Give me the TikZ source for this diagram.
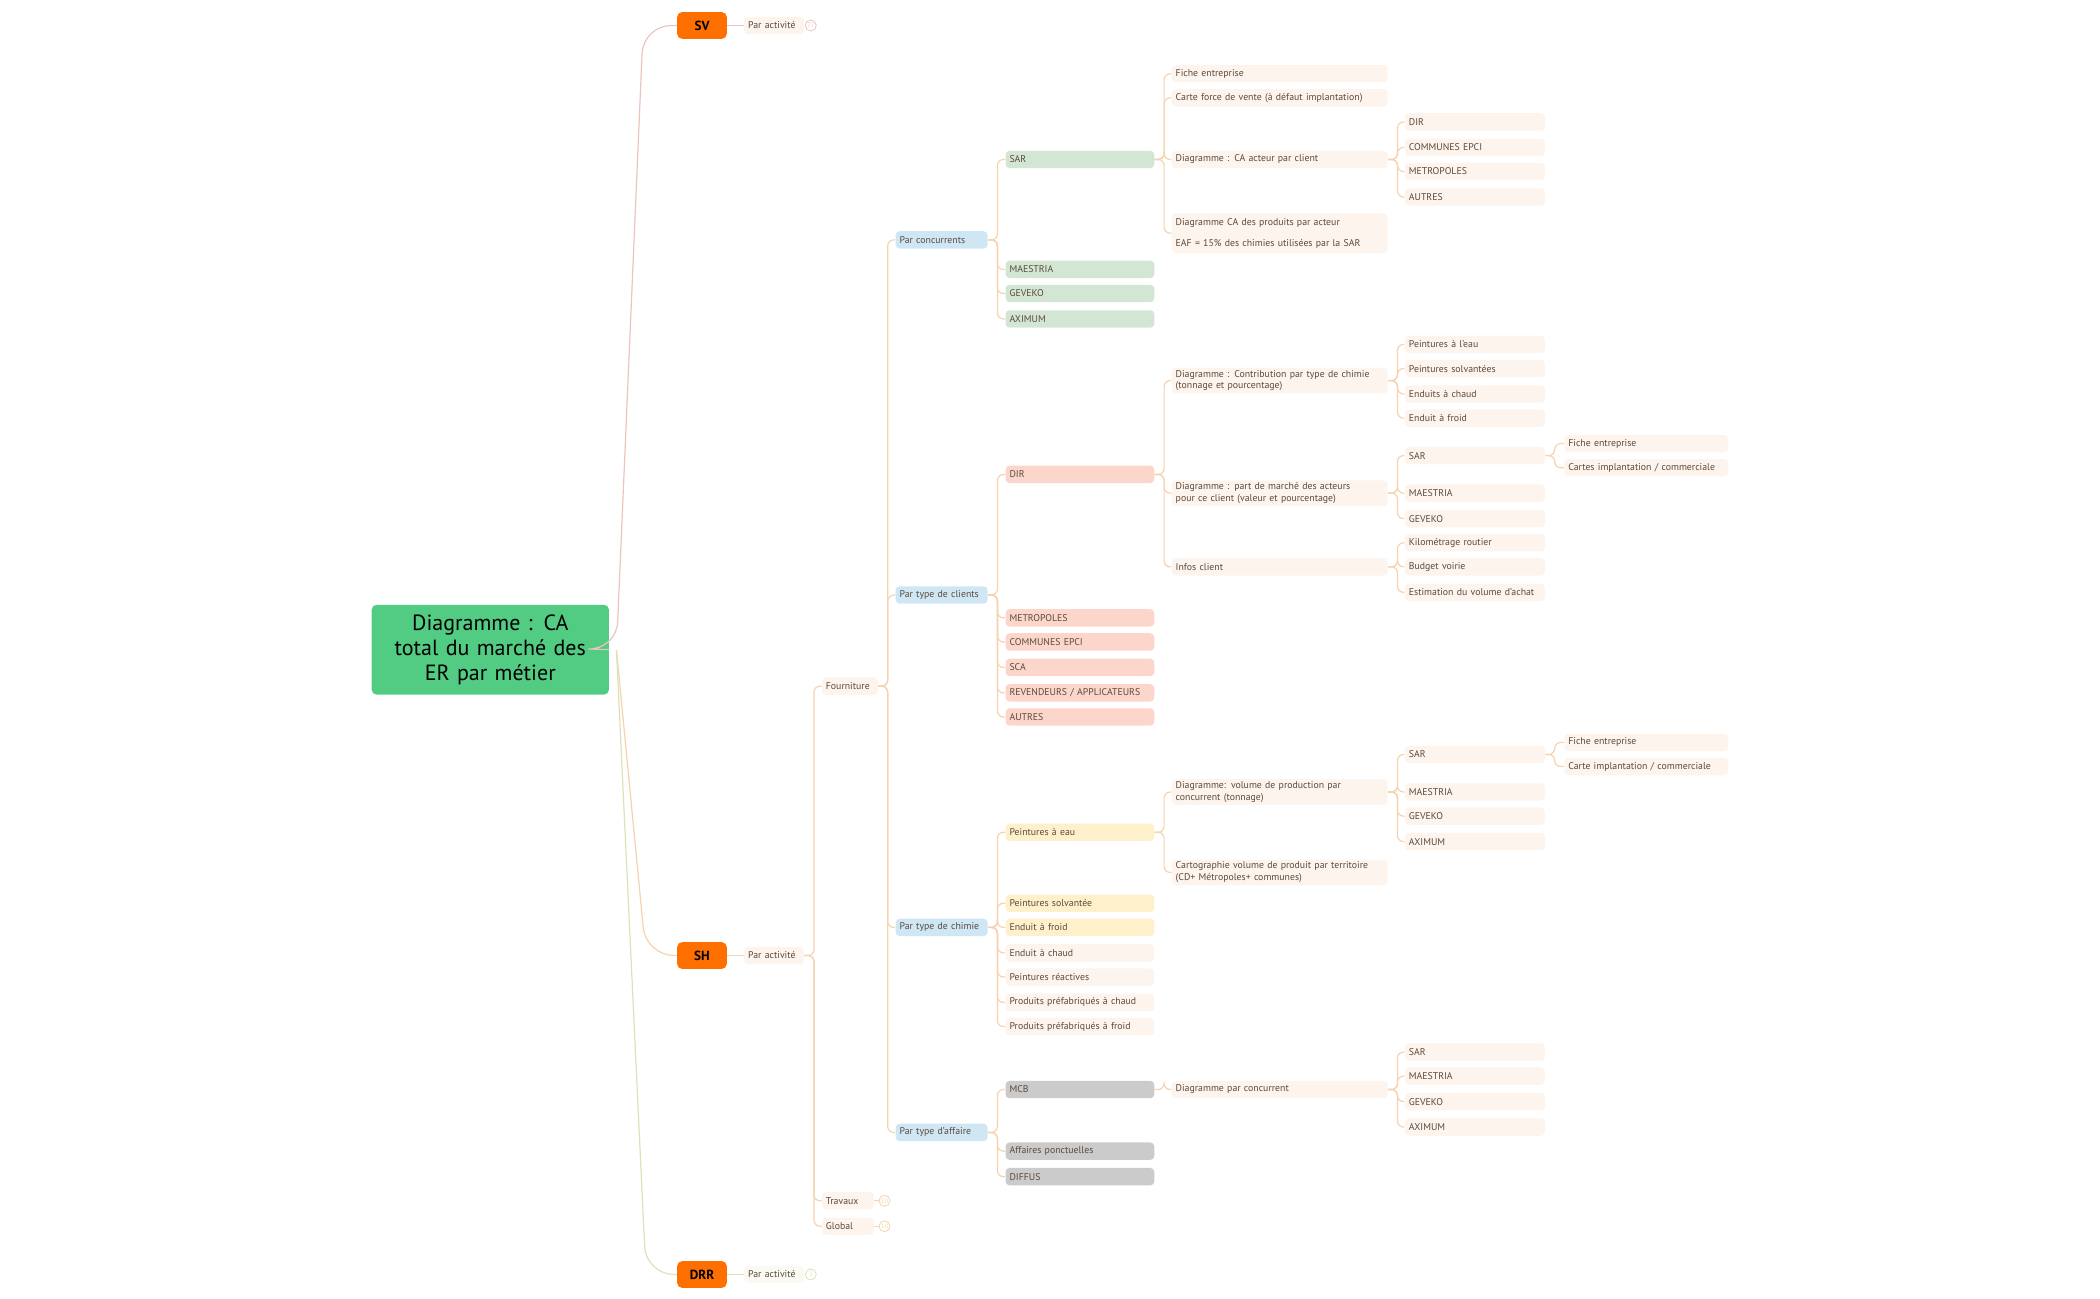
\documentclass[tikz,border=0pt]{standalone}
\usepackage{fontspec}
\setmainfont{PT Sans}
\begin{document}
\hyphenpenalty=10000 \exhyphenpenalty=10000
\begin{tikzpicture}[x=0.67pt,y=-0.67pt,
 base/.style={anchor=west,rounded corners=2pt,inner xsep=2pt,inner ysep=1.2pt,minimum height=8.7pt,align=left,font=\fontsize{4.9}{5.9}\selectfont,text=txt},
 L4/.style={base,fill=blueF,text width=42pt},
 L5/.style={base,text width=70.4pt},
 L6/.style={base,fill=paleF,text width=104pt},
 L7/.style={base,fill=paleF,text width=66pt},
 L8/.style={base,fill=paleF,text width=78pt},
 grn/.style={fill=greenF}, sal/.style={fill=salF}, yel/.style={fill=yelF}, pal/.style={fill=paleF}, gry/.style={fill=greyF},
 top/.style={anchor=west,fill=orangeF,rounded corners=2.5pt,minimum width=24.8pt,minimum height=13.4pt,font=\fontsize{6.6}{8}\selectfont\bfseries,text=black,inner xsep=3pt},
 conn/.style={draw=lineC,line width=0.6pt,rounded corners=3pt},
 badge/.style={circle,draw=lineC,line width=0.4pt,inner sep=0.2pt,minimum size=5.5pt,font=\fontsize{3.2}{3.2}\selectfont,text=lineC}]
\definecolor{txt}{HTML}{5C4A3C}
\definecolor{blueF}{HTML}{CFE6F4}
\definecolor{paleF}{HTML}{FDF4EE}
\definecolor{greenF}{HTML}{D3E6D4}
\definecolor{salF}{HTML}{FDD6CB}
\definecolor{yelF}{HTML}{FFF0CC}
\definecolor{greyF}{HTML}{CBCBCB}
\definecolor{orangeF}{HTML}{FF6F00}
\definecolor{lineC}{HTML}{F5D3AE}
\definecolor{pinkC}{HTML}{EBC4C0}
\definecolor{oliveC}{HTML}{DCE2B8}
\definecolor{rootF}{HTML}{52CC82}
\useasboundingbox (0,0) rectangle (1567,969);
\newcommand\cn[2]{\draw[conn] (#1.east) -- ++(7,0) |- (#2.west);}
% root
\node[anchor=north west,fill=rootF,rounded corners=2.5pt,minimum width=117.9pt,minimum height=44.9pt,text width=112pt,align=center,font=\fontsize{11}{12.4}\selectfont,text=black] (root) at (277,451) {Diagramme : CA\\ total du marché des\\ ER par métier};
\node[top] (sv) at (505,19) {SV};
\node[top] (sh) at (505,713) {SH};
\node[top] (drr) at (505,951) {DRR};
\coordinate (rs) at (460,485);
\draw[conn,draw=pinkC,rounded corners=14pt] (root.east) -- (rs) -- (480,19) -- (sv.west);
\draw[conn,rounded corners=14pt] (rs) -- (482,713) -- (sh.west);
\draw[conn,draw=oliveC,rounded corners=14pt] (rs) -- (482,951) -- (drr.west);
% par activite
\node[base,fill=paleF,text width=26pt] (pa1) at (555,19) {Par activité};
\node[base,fill=paleF,text width=26pt] (pa2) at (555,713) {Par activité};
\node[base,fill=paleF!60!oliveC!30,text width=26pt] (pa3) at (555,951) {Par activité};
\draw[conn,draw=pinkC] (sv.east) -- (pa1.west);
\draw[conn] (sh.east) -- (pa2.west);
\draw[conn,draw=oliveC] (drr.east) -- (pa3.west);
\node[badge,draw=pinkC,text=pinkC] (b1) at (605,19) {77};
\node[badge,draw=oliveC,text=oliveC] (b3) at (605,951) {3};
\draw[conn,draw=pinkC] (pa1.east) -- (b1.west);
\draw[conn,draw=oliveC] (pa3.east) -- (b3.west);
% level 3
\node[base,fill=paleF,text width=24pt] (fo) at (613,512) {Fourniture};
\node[base,fill=paleF,text width=22pt] (tr) at (613,896) {Travaux};
\node[base,fill=paleF,text width=22pt] (gl) at (613,915) {Global};
\node[badge] (b4) at (660,896) {10};
\node[badge] (b5) at (660,915) {10};
\draw[conn] (tr.east) -- (b4.west);
\draw[conn] (gl.east) -- (b5.west);
\cn{pa2}{fo}\cn{pa2}{tr}\cn{pa2}{gl}
% level 4
\node[L4] (pc) at (668,179) {Par concurrents};
\node[L4] (ptc) at (668,444) {Par type de clients};
\node[L4] (pch) at (668,692) {Par type de chimie};
\node[L4] (pta) at (668,845) {Par type d'affaire};
\cn{fo}{pc}\cn{fo}{ptc}\cn{fo}{pch}\cn{fo}{pta}
% level 5
\node[L5,grn] (sar) at (750,119) {SAR};
\node[L5,grn] (mae) at (750,201) {MAESTRIA};
\node[L5,grn] (gev) at (750,219) {GEVEKO};
\node[L5,grn] (axi) at (750,238) {AXIMUM};
\foreach \n in {sar,mae,gev,axi}{\cn{pc}{\n}}
\node[L5,sal] (dir) at (750,354) {DIR};
\node[L5,sal] (met) at (750,461) {METROPOLES};
\node[L5,sal] (com) at (750,479) {COMMUNES EPCI};
\node[L5,sal] (sca) at (750,498) {SCA};
\node[L5,sal] (rev) at (750,517) {REVENDEURS / APPLICATEURS};
\node[L5,sal] (aut) at (750,535) {AUTRES};
\foreach \n in {dir,met,com,sca,rev,aut}{\cn{ptc}{\n}}
\node[L5,yel] (pae) at (750,621) {Peintures à eau};
\node[L5,yel] (pso) at (750,674) {Peintures solvantée};
\node[L5,yel] (efr) at (750,692) {Enduit à froid};
\node[L5,pal] (ech) at (750,711) {Enduit à chaud};
\node[L5,pal] (pre) at (750,729) {Peintures réactives};
\node[L5,pal] (ppc) at (750,748) {Produits préfabriqués à chaud};
\node[L5,pal] (ppf) at (750,766) {Produits préfabriqués à froid};
\foreach \n in {pae,pso,efr,ech,pre,ppc,ppf}{\cn{pch}{\n}}
\node[L5,gry] (mcb) at (750,813) {MCB};
\node[L5,gry] (aff) at (750,859) {Affaires ponctuelles};
\node[L5,gry] (dif) at (750,878) {DIFFUS};
\foreach \n in {mcb,aff,dif}{\cn{pta}{\n}}
% level 6
\node[L6] (fe1) at (874,55) {Fiche entreprise};
\node[L6] (cfv) at (874,73) {Carte force de vente (à défaut implantation)};
\node[L6] (dca) at (874,119) {Diagramme : CA acteur par client};
\node[L6,inner ysep=2.5pt] (dcp) at (874,174) {Diagramme CA des produits par acteur\\[4.5pt]EAF = 15\% des chimies utilisées par la SAR};
\foreach \n in {fe1,cfv,dca,dcp}{\cn{sar}{\n}}
\node[L6] (dcc) at (874,284) {Diagramme : Contribution par type de chimie\\ (tonnage et pourcentage)};
\node[L6] (dpm) at (874,368) {Diagramme : part de marché des acteurs\\ pour ce client (valeur et pourcentage)};
\node[L6] (inf) at (874,423) {Infos client};
\foreach \n in {dcc,dpm,inf}{\cn{dir}{\n}}
\node[L6] (dvp) at (874,591) {Diagramme: volume de production par\\ concurrent (tonnage)};
\node[L6] (car) at (874,651) {Cartographie volume de produit par territoire\\ (CD+ Métropoles+ communes)};
\cn{pae}{dvp}\cn{pae}{car}
\node[L6] (dpc) at (874,813) {Diagramme par concurrent};
\cn{mcb}{dpc}
% level 7
\node[L7] (a1) at (1048,91) {DIR};
\node[L7] (a2) at (1048,110) {COMMUNES EPCI};
\node[L7] (a3) at (1048,128) {METROPOLES};
\node[L7] (a4) at (1048,147) {AUTRES};
\foreach \n in {a1,a2,a3,a4}{\cn{dca}{\n}}
\node[L7] (c1) at (1048,257) {Peintures à l'eau};
\node[L7] (c2) at (1048,275) {Peintures solvantées};
\node[L7] (c3) at (1048,294) {Enduits à chaud};
\node[L7] (c4) at (1048,312) {Enduit à froid};
\foreach \n in {c1,c2,c3,c4}{\cn{dcc}{\n}}
\node[L7] (d1) at (1048,340) {SAR};
\node[L7] (d2) at (1048,368) {MAESTRIA};
\node[L7] (d3) at (1048,387) {GEVEKO};
\foreach \n in {d1,d2,d3}{\cn{dpm}{\n}}
\node[L7] (e1) at (1048,405) {Kilométrage routier};
\node[L7] (e2) at (1048,423) {Budget voirie};
\node[L7] (e3) at (1048,442) {Estimation du volume d'achat};
\foreach \n in {e1,e2,e3}{\cn{inf}{\n}}
\node[L7] (f1) at (1048,563) {SAR};
\node[L7] (f2) at (1048,591) {MAESTRIA};
\node[L7] (f3) at (1048,609) {GEVEKO};
\node[L7] (f4) at (1048,628) {AXIMUM};
\foreach \n in {f1,f2,f3,f4}{\cn{dvp}{\n}}
\node[L7] (g1) at (1048,785) {SAR};
\node[L7] (g2) at (1048,803) {MAESTRIA};
\node[L7] (g3) at (1048,822) {GEVEKO};
\node[L7] (g4) at (1048,841) {AXIMUM};
\foreach \n in {g1,g2,g3,g4}{\cn{dpc}{\n}}
% level 8
\node[L8] (h1) at (1167,331) {Fiche entreprise};
\node[L8] (h2) at (1167,349) {Cartes implantation / commerciale};
\cn{d1}{h1}\cn{d1}{h2}
\node[L8] (k1) at (1167,554) {Fiche entreprise};
\node[L8] (k2) at (1167,572) {Carte implantation / commerciale};
\cn{f1}{k1}\cn{f1}{k2}
\end{tikzpicture}
\end{document}
